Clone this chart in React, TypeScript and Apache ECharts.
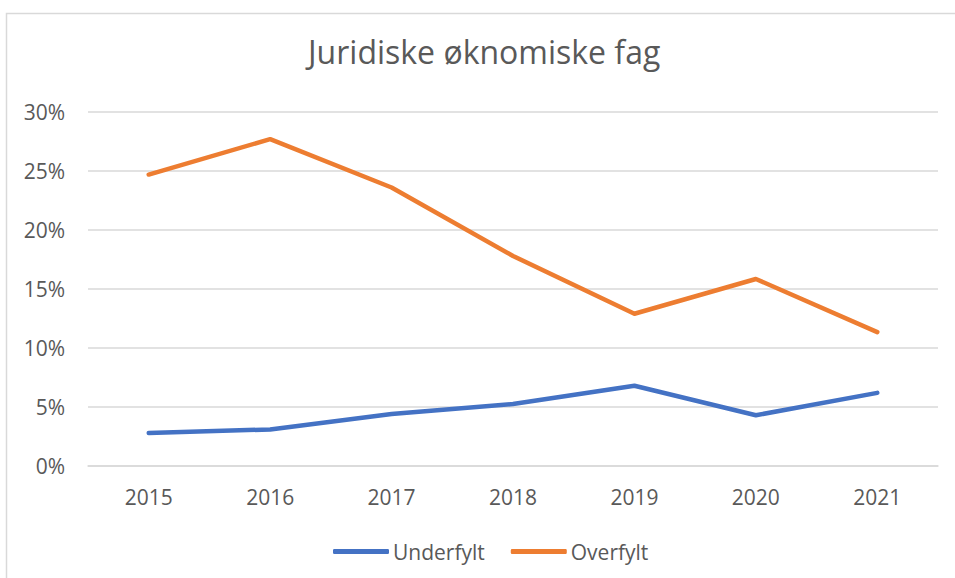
import React, { useEffect, useRef } from "react";
import * as echarts from "echarts";

const years = ["2015", "2016", "2017", "2018", "2019", "2020", "2021"];
const underfylt = [2.8, 3.1, 4.4, 5.25, 6.8, 4.3, 6.2];
const overfylt = [24.7, 27.7, 23.6, 17.8, 12.9, 15.85, 11.35];
const titleText = "Juridiske øknomiske fag";

export default function App() {
  const ref = useRef<HTMLDivElement>(null);
  useEffect(() => {
    if (!ref.current) return;
    const chart = echarts.init(ref.current, null, { renderer: "svg" });
    const font = "Open Sans, Noto Sans, sans-serif";
    chart.setOption({
      animation: false,
      backgroundColor: "#ffffff",
      textStyle: { fontFamily: font },
      title: {
        text: titleText,
        left: 303,
        top: 30,
        textStyle: { fontSize: 32, fontWeight: "normal", color: "#595959", fontFamily: font },
      },
      graphic: [
        {
          type: "rect",
          shape: { x: 6.5, y: 13.5, width: 1000, height: 700 },
          style: { fill: "none", stroke: "#D9D9D9", lineWidth: 1.5 },
          silent: true,
        },
      ],
      grid: { left: 88, right: 17, top: 112, bottom: 112, containLabel: false },
      legend: {
        top: 536,
        left: 328,
        itemWidth: 56,
        itemHeight: 5,
        itemGap: 26,
        icon: "roundRect",
        textStyle: { fontSize: 21, color: "#595959", fontFamily: font, padding: [0, 0, 0, -1] },
        data: ["Underfylt", "Overfylt"],
      },
      xAxis: {
        type: "category",
        data: years,
        boundaryGap: true,
        axisLine: { show: true, lineStyle: { color: "#D9D9D9", width: 1.5 } },
        axisTick: { show: false },
        axisLabel: { fontSize: 21, color: "#595959", margin: 20, fontFamily: font },
      },
      yAxis: {
        type: "value",
        min: 0,
        max: 30,
        interval: 5,
        axisLine: { show: false },
        axisTick: { show: false },
        splitLine: { lineStyle: { color: "#D9D9D9", width: 1.5 } },
        axisLabel: { fontSize: 21, color: "#595959", margin: 23, formatter: (v: number) => v + "%", fontFamily: font },
      },
      series: [
        {
          name: "Underfylt",
          type: "line",
          data: underfylt,
          symbol: "none",
          lineStyle: { color: "#4472C4", width: 4.5, cap: "round", join: "round" },
          itemStyle: { color: "#4472C4" },
        },
        {
          name: "Overfylt",
          type: "line",
          data: overfylt,
          symbol: "none",
          lineStyle: { color: "#ED7D31", width: 4.5, cap: "round", join: "round" },
          itemStyle: { color: "#ED7D31" },
        },
      ],
    });
    return () => chart.dispose();
  }, []);
  return (
    <div
      ref={ref}
      style={{ position: "fixed", left: 0, top: 0, width: 955, height: 578, background: "#fff" }}
    />
  );
}
